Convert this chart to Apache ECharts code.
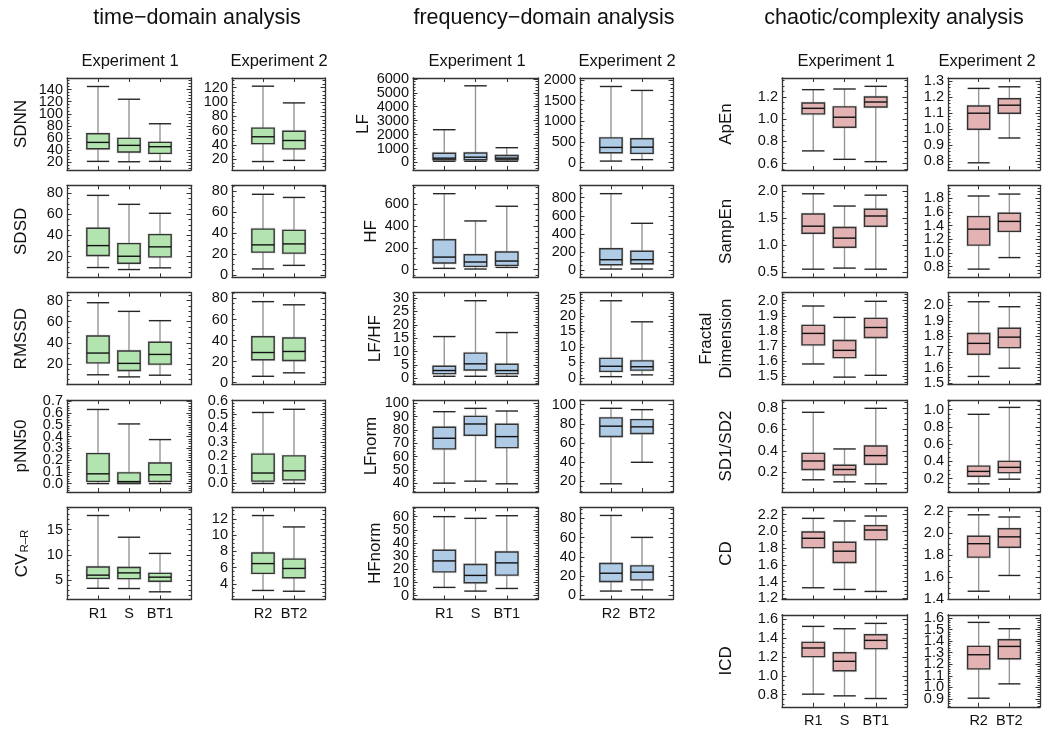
<!DOCTYPE html>
<html><head><meta charset="utf-8">
<script src="https://cdn.jsdelivr.net/npm/echarts@6/dist/echarts.min.js"></script>
<style>html,body{margin:0;padding:0;background:#fff}#c{width:1045px;height:729px}</style>
</head><body><div id="c"></div>
<script>
// ---------- categories ----------
const groups1 = ['R1', 'S', 'BT1'];
const groups2 = ['R2', 'BT2'];

// ---------- box data: [min, Q1, median, Q3, max] ----------
// time-domain
const SDNN_e1  = [[21.6,42.5,52.9,67.1,145],[21,37,48,59.5,124],[21.6,34.8,45.8,52.9,83.6]];
const SDNN_e2  = [[17,42,51.5,63.5,122],[18.6,34.7,46.3,59.3,98.7]];
const SDSD_e1  = [[9.6,21,30.4,46.8,78],[7.7,13.7,20.3,32.3,69.5],[9.3,19.7,29.2,40.8,61]];
const SDSD_e2  = [[6,22,28.9,43.9,77],[9.4,21,29.8,42.7,74]];
const RMSSD_e1 = [[9.7,21,30.3,46.5,78],[7.7,13.8,20.5,32.3,69.8],[9.3,19.8,29.0,40.6,61]];
const RMSSD_e2 = [[6,21.8,28.6,43.6,77],[9.3,21,29.6,42.4,74]];
const pNN50_e1 = [[0,0.019,0.083,0.255,0.63],[0,0.003,0.017,0.091,0.507],[0,0.019,0.075,0.175,0.374]];
const pNN50_e2 = [[0,0.017,0.076,0.213,0.515],[0,0.026,0.092,0.2,0.538]];
const CV_e1    = [[3.4,5.35,6.0,7.6,17.8],[3.35,5.3,6.45,7.5,13.5],[2.7,4.8,5.6,6.35,10.3]];
const CV_e2    = [[3.2,5.3,6.5,7.8,12.4],[3.1,4.75,5.9,7.05,11.0]];
// frequency-domain
const LF_e1     = [[85,200,310,660,2350],[85,200,380,680,5500],[85,200,310,500,1060]];
const LF_e2     = [[40,240,370,600,1840],[75,225,375,580,1745]];
const HF_e1     = [[12,61,115,273,694],[6,30,70,136,445],[21,39,79,161,579]];
const HF_e2     = [[11,59,114,236,845],[11,70,114,207,517]];
const LFHF_e1   = [[0.75,1.75,2.9,4.5,15.6],[0.75,3.1,5.4,9.4,29],[0.75,1.75,2.9,5.25,17.1]];
const LFHF_e2   = [[0.4,2.1,3.75,6.3,24.9],[0.97,2.5,3.6,5.5,18.1]];
const LFnorm_e1 = [[40,65.75,73.75,82,93.75],[41.5,76,84.5,90.25,96.25],[39.5,66.75,75,84.25,94.25]];
const LFnorm_e2 = [[17.6,66.9,77.6,86.2,96.2],[40,70,76.9,84.4,94.8]];
const HFnorm_e1 = [[6.3,18.1,26.4,34.5,60],[3.5,9.8,15.4,23.7,58.7],[5.5,15.6,24.9,33.2,60.7]];
const HFnorm_e2 = [[4.2,14.2,22.8,32.9,83.1],[5.5,15.9,23.9,30.5,60.2]];
// chaotic / complexity
const ApEn_e1   = [[0.715,1.048,1.098,1.146,1.266],[0.639,0.928,1.018,1.111,1.272],[0.618,1.11,1.155,1.2,1.296]];
const ApEn_e2   = [[0.79,1.0,1.1,1.145,1.255],[0.945,1.1,1.15,1.19,1.265]];
const SampEn_e1 = [[0.56,1.22,1.35,1.573,1.945],[0.58,0.963,1.13,1.325,1.72],[0.56,1.35,1.537,1.66,1.92]];
const SampEn_e2 = [[0.765,1.115,1.347,1.53,1.83],[0.933,1.314,1.46,1.578,1.858]];
const FD_e1     = [[1.582,1.708,1.784,1.837,1.965],[1.495,1.624,1.672,1.737,1.89],[1.507,1.757,1.823,1.883,1.996]];
const FD_e2     = [[1.543,1.685,1.755,1.818,2.022],[1.596,1.728,1.795,1.852,1.99]];
const SD12_e1   = [[0.132,0.228,0.307,0.378,0.76],[0.113,0.178,0.228,0.268,0.419],[0.095,0.277,0.357,0.447,0.797]];
const SD12_e2   = [[0.14,0.228,0.284,0.345,0.945],[0.194,0.27,0.331,0.4,1.025]];
const CD_e1     = [[1.327,1.807,1.918,1.994,2.156],[1.307,1.629,1.764,1.871,2.125],[1.283,1.902,2.017,2.069,2.184]];
const CD_e2     = [[1.472,1.781,1.903,1.97,2.165],[1.615,1.871,1.965,2.038,2.145]];
const ICD_e1    = [[0.804,1.204,1.296,1.356,1.526],[0.786,1.053,1.154,1.246,1.501],[0.758,1.289,1.377,1.437,1.558]];
const ICD_e2    = [[0.906,1.16,1.282,1.354,1.562],[1.03,1.247,1.354,1.412,1.507]];

// ---------- y-axis scales: [min, max, major step] for Exp1, Exp2 ----------
const SDNN_ax   = [[7.4,159,20],[5.2,133.4,20]];
const SDSD_ax   = [[0.3,87.5,20],[-2,85.5,20]];
const RMSSD_ax  = [[0.3,87.5,20],[-2,85.5,20]];
const pNN50_ax  = [[-0.072,0.71,0.1],[-0.062,0.605,0.1]];
const CV_ax     = [[1.2,19.4,5],[2.1,13.4,2]];
const LF_ax     = [[-540,6060,1000],[-175,2045,500]];
const HF_ax     = [[-70,770,200],[-81,937,200]];
const LFHF_ax   = [[-2.4,32,5],[-2.2,27.5,5]];
const LFnorm_ax = [[33.3,102.5,10],[9,104.8,20]];
const HFnorm_ax = [[-2.8,67,10],[-4.5,91.5,20]];
const ApEn_ax   = [[0.543,1.371,0.2],[0.745,1.32,0.1]];
const SampEn_ax = [[0.41,2.1,0.5],[0.645,1.985,0.2]];
const FD_ax     = [[1.445,2.053,0.1],[1.49,2.08,0.1]];
const SD12_ax   = [[0.018,0.874,0.2],[0.045,1.11,0.2]];
const CD_ax     = [[1.188,2.287,0.2],[1.398,2.232,0.2]];
const ICD_ax    = [[0.67,1.65,0.2],[0.832,1.628,0.1]];

// ---------- texts ----------
const sectionTitles = ['time\u2212domain analysis', 'frequency\u2212domain analysis', 'chaotic/complexity analysis'];
const expTitles = ['Experiment 1', 'Experiment 2'];

const sections = [
  { color: '#b3e4b0', metrics: [
    { name: 'SDNN', e: [SDNN_e1, SDNN_e2], ax: SDNN_ax },
    { name: 'SDSD', e: [SDSD_e1, SDSD_e2], ax: SDSD_ax },
    { name: 'RMSSD', e: [RMSSD_e1, RMSSD_e2], ax: RMSSD_ax },
    { name: 'pNN50', e: [pNN50_e1, pNN50_e2], ax: pNN50_ax },
    { name: '{a|CV}{b|R\u2013R}', e: [CV_e1, CV_e2], ax: CV_ax } ] },
  { color: '#b0cbe6', metrics: [
    { name: 'LF', e: [LF_e1, LF_e2], ax: LF_ax },
    { name: 'HF', e: [HF_e1, HF_e2], ax: HF_ax },
    { name: 'LF/HF', e: [LFHF_e1, LFHF_e2], ax: LFHF_ax },
    { name: 'LFnorm', e: [LFnorm_e1, LFnorm_e2], ax: LFnorm_ax },
    { name: 'HFnorm', e: [HFnorm_e1, HFnorm_e2], ax: HFnorm_ax } ] },
  { color: '#e3b2b2', metrics: [
    { name: 'ApEn', e: [ApEn_e1, ApEn_e2], ax: ApEn_ax },
    { name: 'SampEn', e: [SampEn_e1, SampEn_e2], ax: SampEn_ax },
    { name: 'Fractal\nDimension', e: [FD_e1, FD_e2], ax: FD_ax },
    { name: 'SD1/SD2', e: [SD12_e1, SD12_e2], ax: SD12_ax },
    { name: 'CD', e: [CD_e1, CD_e2], ax: CD_ax },
    { name: 'ICD', e: [ICD_e1, ICD_e2], ax: ICD_ax } ] }
];

// ---------- layout / style ----------
const FONT = '"Liberation Sans", Arial, Helvetica, sans-serif';
const FRAME = '#333';
const INK = '#111';
const layout = [
  { x: [67, 232], w: [124, 93], gap: 36, titleX: 197, headX: [130, 279] },
  { x: [413, 580], w: [125, 93], gap: 28, titleX: 544, headX: [477, 627] },
  { x: [782, 948], w: [125, 92], gap: 46, titleX: 894, headX: [846, 987] }
];
const ROW0 = 78, ROWSTEP = 107.35, PANEL_H = 92, BOX_W = 0.72;

function fmt(v, step) {
  const k = v / step;
  if (Math.abs(k - Math.round(k)) > 1e-6) return '';
  return step < 1 ? v.toFixed(1) : String(Math.round(v));
}
function subCount(step) {
  const lead = Math.round(step / Math.pow(10, Math.floor(Math.log10(step) + 1e-9)));
  return lead === 2 ? 4 : 5;
}

function renderItem(params, api) {
  const x = api.value(0);
  const p = [1, 2, 3, 4, 5].map(k => api.coord([x, api.value(k)]));
  const w = api.size([BOX_W, 0])[0];
  const cx = p[0][0], l = cx - w / 2;
  const fill = api.visual('color');
  return { type: 'group', children: [
    { type: 'line', shape: { x1: cx, y1: p[0][1], x2: cx, y2: p[4][1] }, style: { stroke: '#969696', lineWidth: 1.4 } },
    { type: 'line', shape: { x1: l, y1: p[0][1], x2: l + w, y2: p[0][1] }, style: { stroke: '#262626', lineWidth: 1.4 } },
    { type: 'line', shape: { x1: l, y1: p[4][1], x2: l + w, y2: p[4][1] }, style: { stroke: '#262626', lineWidth: 1.4 } },
    { type: 'rect', shape: { x: l, y: p[3][1], width: w, height: p[1][1] - p[3][1] }, style: { fill: 'none', stroke: 'rgba(170,170,170,0.3)', lineWidth: 3 } },
    { type: 'rect', shape: { x: l, y: p[3][1], width: w, height: p[1][1] - p[3][1] }, style: { fill: fill, stroke: '#333', lineWidth: 1.4 } },
    { type: 'line', shape: { x1: l, y1: p[2][1], x2: l + w, y2: p[2][1] }, style: { stroke: '#111', lineWidth: 1.4 } }
  ] };
}

const option = { animation: false, backgroundColor: '#fff', grid: [], xAxis: [], yAxis: [], series: [], graphic: [] };

function xAxisOpt(gi, pos, cats, showLabels) {
  return { type: 'value', gridIndex: gi, position: pos, min: 0, max: cats.length + 1, interval: 1,
    axisLine: { show: true, onZero: false, lineStyle: { color: FRAME, width: 1.3 } },
    axisTick: { show: true, inside: true, length: 4, lineStyle: { color: FRAME, width: 1 } },
    axisLabel: { show: showLabels, formatter: v => cats[v - 1] || '', margin: 7, fontSize: 14.5, color: INK, fontFamily: FONT },
    splitLine: { show: false } };
}
function yAxisOpt(gi, pos, ax, major, name, gap) {
  const [mn, mx, step] = ax;
  const st = major ? step : step / subCount(step);
  const o = { type: 'value', gridIndex: gi, position: pos, min: mn, max: mx, minInterval: st, maxInterval: st,
    splitNumber: Math.max(1, Math.round((mx - mn) / st)),
    axisLine: { show: major, onZero: false, lineStyle: { color: FRAME, width: 1.3 } },
    axisTick: { show: true, inside: true, length: major ? 4.5 : 2.5, lineStyle: { color: FRAME, width: 1 } },
    axisLabel: { show: major && pos === 'left', formatter: v => fmt(v, step), margin: 4, fontSize: 14.5, color: INK, fontFamily: FONT },
    splitLine: { show: false } };
  if (name) {
    Object.assign(o, { name: name, nameLocation: 'middle', nameGap: gap, nameRotate: 90,
      nameTextStyle: { fontSize: 17, color: INK, fontFamily: FONT, lineHeight: 20,
        rich: { a: { fontSize: 17, fontFamily: FONT, color: INK, lineHeight: 17, verticalAlign: 'top' },
                b: { fontSize: 11.5, fontFamily: FONT, color: INK, lineHeight: 12, padding: [7, 0, 0, 1], verticalAlign: 'bottom' } } } });
  }
  return o;
}

sections.forEach((sec, c) => {
  const L = layout[c];
  option.graphic.push({ type: 'text', x: L.titleX, y: 18,
    style: { text: sectionTitles[c], fill: INK, fontSize: 21.5, fontFamily: FONT, align: 'center', verticalAlign: 'middle', textAlign: 'center', textVerticalAlign: 'middle' } });
  [0, 1].forEach(e => option.graphic.push({ type: 'text', x: L.headX[e], y: 61,
    style: { text: expTitles[e], fill: INK, fontSize: 16.5, fontFamily: FONT, align: 'center', verticalAlign: 'middle', textAlign: 'center', textVerticalAlign: 'middle' } }));
  sec.metrics.forEach((m, r) => {
    const isBottom = r === sec.metrics.length - 1;
    [0, 1].forEach(e => {
      const cats = e === 0 ? groups1 : groups2;
      const gi = option.grid.length;
      option.grid.push({ left: L.x[e], top: ROW0 + ROWSTEP * r, width: L.w[e], height: PANEL_H });
      const xi = option.xAxis.length;
      option.xAxis.push(xAxisOpt(gi, 'bottom', cats, isBottom), xAxisOpt(gi, 'top', cats, false));
      const yi = option.yAxis.length;
      option.yAxis.push(
        yAxisOpt(gi, 'left', m.ax[e], true, e === 0 ? m.name : null, L.gap),
        yAxisOpt(gi, 'left', m.ax[e], false),
        yAxisOpt(gi, 'right', m.ax[e], true),
        yAxisOpt(gi, 'right', m.ax[e], false));
      option.series.push({ type: 'custom', xAxisIndex: xi, yAxisIndex: yi, clip: false,
        itemStyle: { color: sec.color }, encode: { x: 0, y: [1, 2, 3, 4, 5] },
        renderItem: renderItem, data: m.e[e].map((d, i) => [i + 1].concat(d)) });
    });
  });
});

const chart = echarts.init(document.getElementById('c'), null, { renderer: 'canvas' });
chart.setOption(option);
</script>
</body></html>
